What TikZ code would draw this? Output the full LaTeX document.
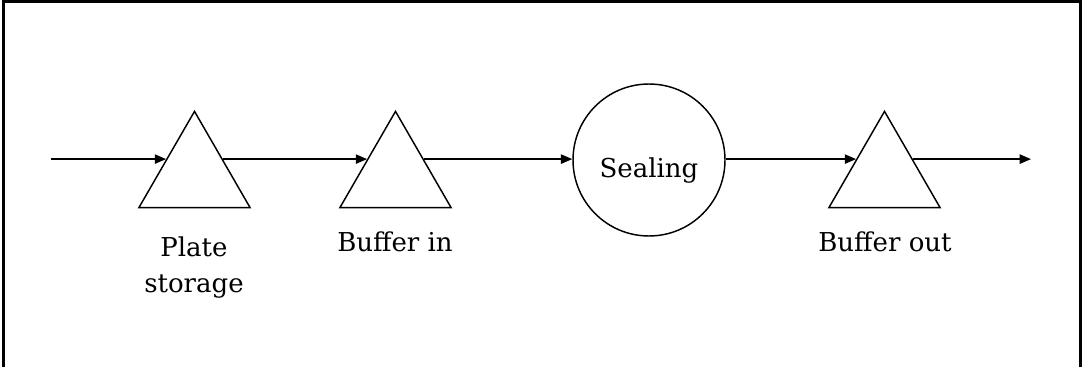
\documentclass[tikz,border=0pt]{standalone}
\usepackage{fontspec}
\setmainfont{DejaVu Serif}
\usetikzlibrary{arrows.meta,shapes.geometric,calc}
\begin{document}
\begin{tikzpicture}[x=0.75pt,y=-0.75pt,
  tri/.style={regular polygon, regular polygon sides=3, draw, line width=1.1pt,
    minimum size=96.2pt, inner sep=0pt},
  station/.style={circle, draw, line width=1.1pt, minimum size=114pt, inner sep=0pt,
    font=\fontsize{19.5}{27}\selectfont},
  lbl/.style={font=\fontsize{19.5}{27}\selectfont, align=center, inner sep=0pt},
  flow/.style={line width=1.1pt, -{Triangle[length=8.5pt,width=7pt]}},
  plain/.style={line width=1.1pt}]
\useasboundingbox (0,0) rectangle (1082,367);
\draw[line width=1.8pt] (3.5,367) -- (3.5,1.5) -- (1080.5,1.5) -- (1080.5,367);
\node[tri] (t1) at (194.5,175.5) {};
\node[tri] (t2) at (395.5,175.5) {};
\node[tri] (t3) at (884.5,175.5) {};
\node[station] (seal) at (649,160) {\raisebox{-13pt}[0pt][0pt]{Sealing}};
\node[lbl, anchor=north] (l1) at (194,236) {Plate\\storage};
\node[lbl, anchor=north] (l2) at (395,231) {Buffer in};
\node[lbl, anchor=north] (l3) at (885,231) {Buffer out};
\coordinate (start) at (51,160);
\coordinate (stop) at (1031,160);
\coordinate (t1in) at ($(t1.corner 1)!0.5!(t1.corner 2)$);
\coordinate (t1out) at ($(t1.corner 1)!0.5!(t1.corner 3)$);
\coordinate (t2in) at ($(t2.corner 1)!0.5!(t2.corner 2)$);
\coordinate (t2out) at ($(t2.corner 1)!0.5!(t2.corner 3)$);
\coordinate (t3in) at ($(t3.corner 1)!0.5!(t3.corner 2)$);
\coordinate (t3out) at ($(t3.corner 1)!0.5!(t3.corner 3)$);
\draw[flow] (start |- t1in) -- (t1in);
\draw[flow] (t1out) -- (t2in);
\draw[flow] (t2out) -- (t2out -| seal.west);
\draw[flow] (seal.east |- t3in) -- (t3in);
\draw[flow] (t3out) -- (stop |- t3out);
\end{tikzpicture}
\end{document}
